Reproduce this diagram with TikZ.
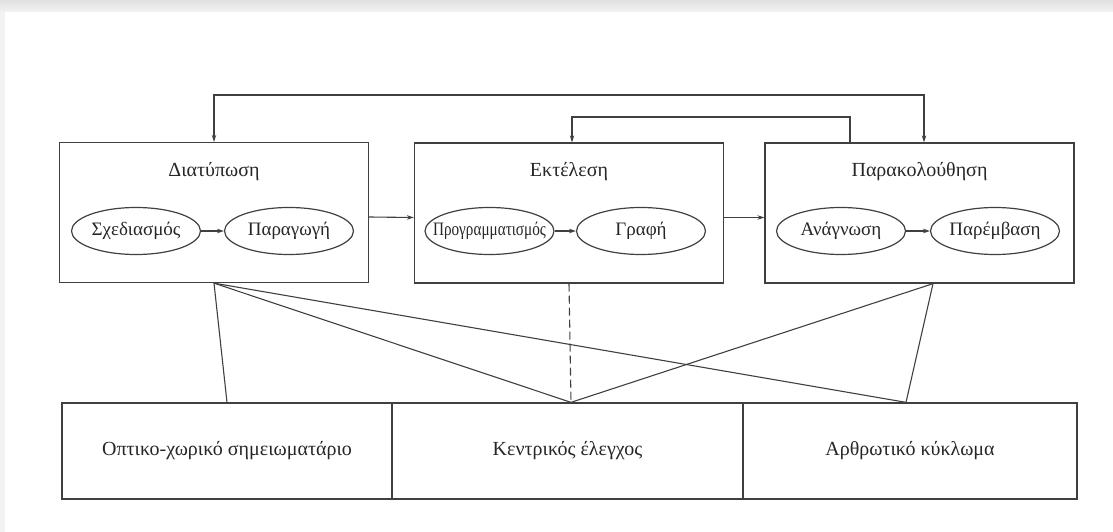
\documentclass[tikz,border=0pt]{standalone}
\usepackage{fontspec}
\usepackage{graphicx}
\setmainfont{Liberation Serif}
\usetikzlibrary{shapes.geometric, arrows.meta}

\begin{document}
\begin{tikzpicture}[x=1pt, y=-1pt, >={Stealth[length=7pt,width=4.5pt]},
    stage/.style={draw=black!75, line width=1.3pt, minimum width=309pt, minimum height=140pt, inner sep=0pt},
    store/.style={draw=black!75, line width=1.3pt, minimum height=96pt, inner sep=0pt, text=black!85, font=\fontsize{20}{24}\selectfont},
    oval/.style={ellipse, draw=black!75, line width=1.2pt, minimum width=129pt, minimum height=47pt, inner sep=0pt, text=black!85, font=\fontsize{19}{22}\selectfont},
    heading/.style={text=black!85, font=\fontsize{20}{24}\selectfont},
    link/.style={draw=black!75, line width=1.1pt}]
    \useasboundingbox (0,0) rectangle (1113,532);
    % page shadow
    \shade[top color=black!12, bottom color=black!5] (0,0) rectangle (1113,12);
    \fill[black!5] (0,12) rectangle (5,532);

    % the three stages
    \node [stage] (form) at (214,212.5) {};
    \node [stage] (exec) at (569,213) {};
    \node [stage] (watch) at (919.5,213) {};
    \node [heading] (formt) at (214,172) {Διατύπωση};
    \node [heading] (exect) at (569,172) {Εκτέλεση};
    \node [heading] (watcht) at (919.5,172) {Παρακολούθηση};

    \node [oval] (plan) at (136,231) {\makebox[0pt]{Σχεδιασμός}};
    \node [oval] (prod) at (289,231) {\makebox[0pt]{Παραγωγή}};
    \node [oval] (prog) at (489.5,231) {\makebox[0pt]{\scalebox{0.8}[1]{Προγραμματισμός}}};
    \node [oval] (write) at (641,231) {\makebox[0pt]{Γραφή}};
    \node [oval] (read) at (841,231) {\makebox[0pt]{Ανάγνωση}};
    \node [oval] (edit) at (995,231) {\makebox[0pt]{Παρέμβαση}};

    \draw [link, ->] (plan) -- (prod);
    \draw [link, ->] (prog) -- (write);
    \draw [link, ->] (read) -- (edit);

    \draw [link, ->] ([yshift=-4.5pt]form.east) -- ([yshift=-4.5pt]exec.west);
    \draw [link, ->] ([yshift=-4.5pt]exec.east) -- ([yshift=-4.5pt]watch.west);

    % feedback lines on top
    \draw [link, <->] (form.north) -- (214,95) -- (924,95) -- ([xshift=4.5pt]watch.north);
    \draw [link, ->] ([xshift=-69.5pt]watch.north) -- (850,117) -- (572,117) -- ([xshift=3pt]exec.north);

    % the three components
    \node [store, minimum width=330pt] (sketch) at (227,451) {Οπτικο-χωρικό σημειωματάριο};
    \node [store, minimum width=351pt] (central) at (567.5,451) {Κεντρικός έλεγχος};
    \node [store, minimum width=334pt] (loop) at (910,451) {Αρθρωτικό κύκλωμα};
    \coordinate (hub) at ([xshift=3.5pt]central.north);
    \coordinate (watchb) at ([xshift=13.5pt]watch.south);

    \draw [link] (form.south) -- (sketch.north);
    \draw [link] (form.south) -- (hub);
    \draw [link] (form.south) -- ([xshift=-4pt]loop.north);
    \draw [link, dash pattern=on 8pt off 4pt] (exec.south) -- (hub);
    \draw [link] (watchb) -- (hub);
    \draw [link] (watchb) -- ([xshift=-4pt]loop.north);
\end{tikzpicture}
\end{document}
